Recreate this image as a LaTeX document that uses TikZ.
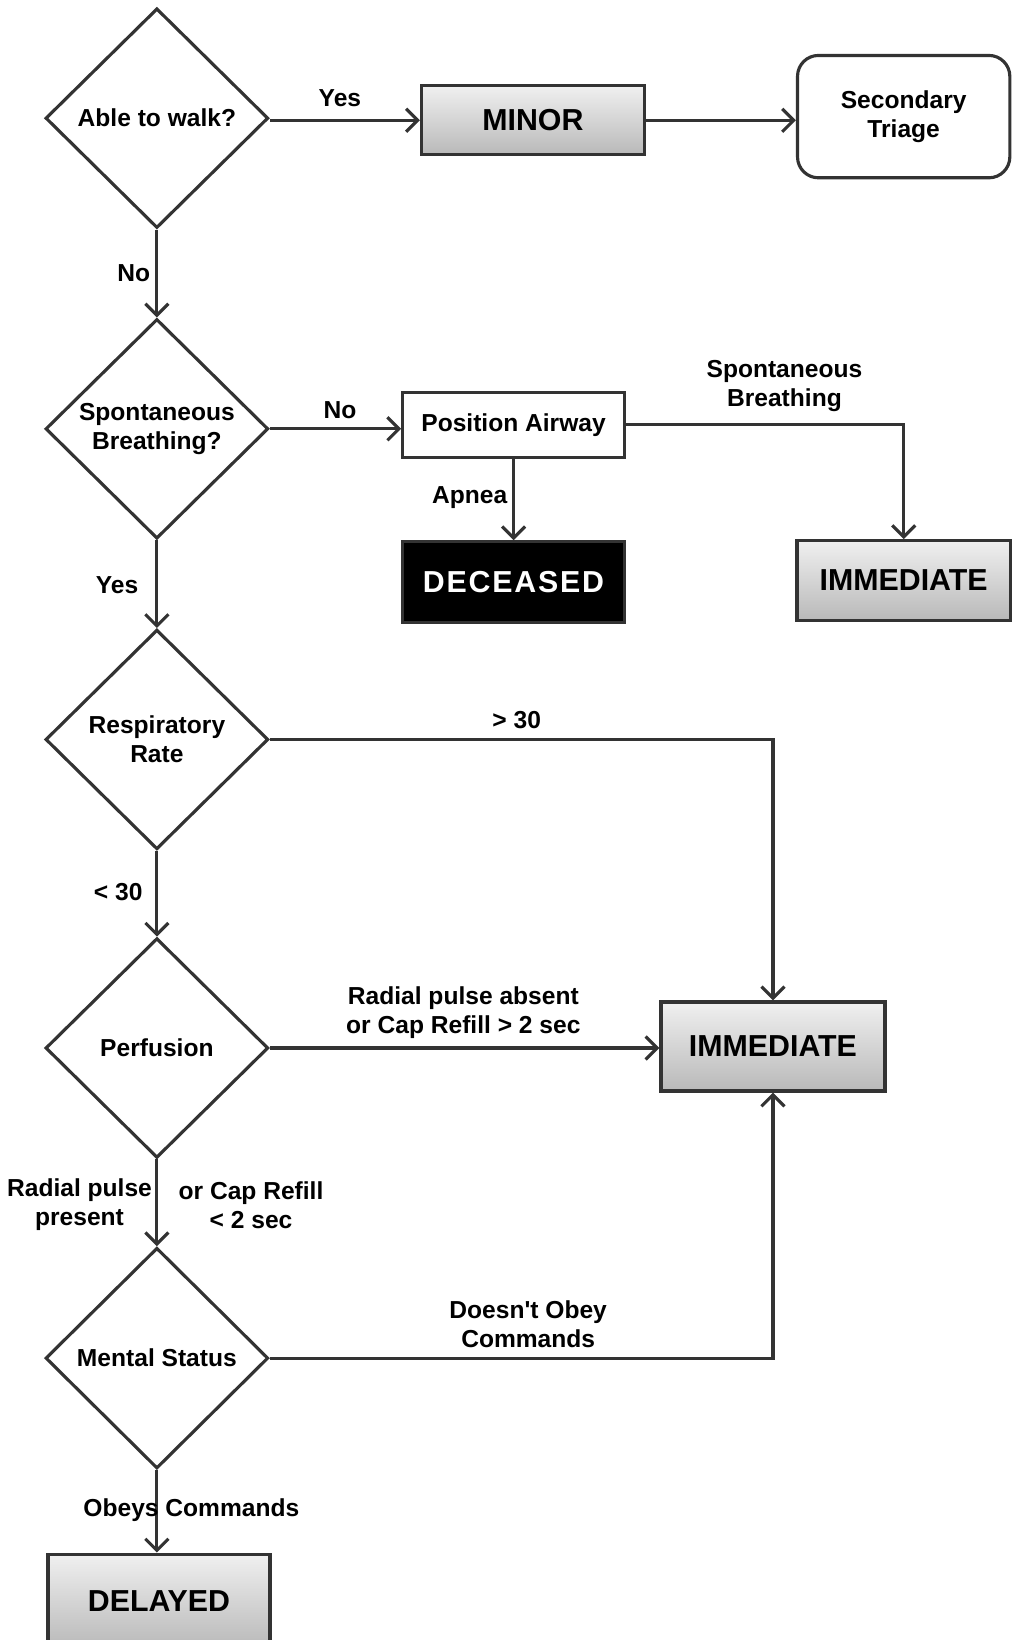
\documentclass[tikz,border=0pt]{standalone}
\usepackage{fontspec}
\setmainfont{Liberation Sans}
\usetikzlibrary{shapes.geometric,arrows.meta}
\definecolor{ln}{HTML}{333333}
\begin{document}
\begin{tikzpicture}[x=1pt,y=-1pt,
  every node/.style={font=\bfseries\fontsize{23.5}{28}\selectfont, text=black},
  dec/.style={draw=ln, line width=3pt, diamond, minimum width=213pt, minimum height=210pt, inner sep=0pt, align=center, fill=white},
  outbox/.style={draw=ln, line width=3.2pt, top color=gray!12, bottom color=gray!55, font=\bfseries\fontsize{29}{34}\selectfont},
  plainbox/.style={draw=ln, line width=3pt, fill=white, align=center},
  conn/.style={draw=ln, line width=3pt, -{Straight Barb[length=11pt,width=22pt,line width=3pt]}},
  lbl/.style={align=center, inner sep=0pt}
]
\useasboundingbox (0,0) rectangle (967,1568);
\fill[white] (0,0) rectangle (967,1568);

% decision and outcome nodes
\node[dec] (walk) at (150,113) {Able to walk?};
\node[outbox, minimum width=213pt, minimum height=66pt] (minor) at (509.5,115) {MINOR};
\node[plainbox, rounded corners=20pt, minimum width=203pt, minimum height=117pt] (sec) at (864,111.5) {Secondary\\Triage};

\node[dec] (sb) at (150,410) {Spontaneous\\Breathing?};
\node[plainbox, minimum width=212pt, minimum height=62pt] (pa) at (491,406) {Position Airway};
\node[draw=ln, line width=3pt, fill=black, text=white, minimum width=212pt, minimum height=77pt,
      font=\bfseries\fontsize{29}{34}\selectfont\addfontfeature{LetterSpace=6}] (dead) at (491,556.5) {DECEASED};
\node[outbox, minimum width=204pt, minimum height=76pt] (imm1) at (864,555) {IMMEDIATE};

\node[dec] (rr) at (150,707) {Respiratory\\Rate};
\node[dec] (perf) at (150,1002) {Perfusion};
\node[outbox, minimum width=214pt, minimum height=85pt] (imm2) at (739,1000.5) {IMMEDIATE};
\node[dec, minimum height=211pt] (ms) at (150,1298.5) {Mental Status};
\node[outbox, minimum width=212pt, minimum height=90pt, text depth=0pt] (del) at (152,1531) {DELAYED};

% connectors
\draw[conn] (walk.east) ++(0,2) -- ([yshift=-2pt]walk.east -| minor.west);
\draw[conn] (minor.east) -- (minor.east -| sec.west);
\draw[conn] (walk.south) -- (sb.north);
\draw[conn] (sb.east) -- (sb.east -| pa.west);
\draw[conn] (pa.east) -| (imm1.north);
\draw[conn] (pa.south) -- (dead.north);
\draw[conn] (sb.south) -- (rr.north);
\draw[conn] (rr.east) -| (imm2.north);
\draw[conn] (rr.south) -- (perf.north);
\draw[conn] (perf.east) -- (perf.east -| imm2.west);
\draw[conn] (perf.south) -- (ms.north);
\draw[conn] (ms.east) -| (imm2.south);
\draw[conn] (ms.south) -- (ms.south |- del.north);

% labels
\node[lbl] (l1) at (325,94) {Yes};
\node[lbl] (l2) at (128,261) {No};
\node[lbl] (l3) at (325,392) {No};
\node[lbl] (l4) at (750,369) {Spontaneous\\Breathing};
\node[lbl] (l5) at (449,476) {Apnea};
\node[lbl] (l6) at (112,559) {Yes};
\node[lbl] (l7) at (494,688) {> 30};
\node[lbl] (l8) at (113,853) {< 30};
\node[lbl] (l9) at (443,968) {Radial pulse absent\\or Cap Refill > 2 sec};
\node[lbl] (l10) at (76,1152) {Radial pulse\\present};
\node[lbl] (l11) at (240,1152) {or Cap Refill\\< 2 sec};
\node[lbl] (l12) at (505,1266) {Doesn\textquotesingle t Obey\\Commands};
\node[lbl] (l13) at (183,1444) {Obeys Commands};
\end{tikzpicture}
\end{document}
